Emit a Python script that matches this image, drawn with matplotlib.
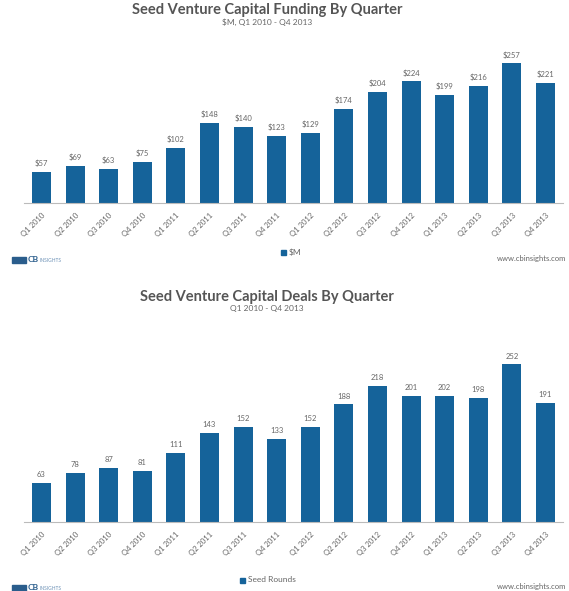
import matplotlib
matplotlib.use("Agg")
import matplotlib.pyplot as plt
import numpy as np

quarters = [
    "Q1 2010", "Q2 2010", "Q3 2010", "Q4 2010",
    "Q1 2011", "Q2 2011", "Q3 2011", "Q4 2011",
    "Q1 2012", "Q2 2012", "Q3 2012", "Q4 2012",
    "Q1 2013", "Q2 2013", "Q3 2013", "Q4 2013",
]
funding = [57, 69, 63, 75, 102, 148, 140, 123, 129, 174, 204, 224, 199, 216, 257, 221]
deals = [63, 78, 87, 81, 111, 143, 152, 133, 152, 188, 218, 201, 202, 198, 252, 191]

BAR = "#15639a"
GRAY = "#666666"
plt.rcParams["font.family"] = ["Lato", "DejaVu Sans"]

fig = plt.figure(figsize=(5.69, 5.91), dpi=100)
W, H = 569, 591


def fx(px):
    return px / W


def fy(py):
    return 1 - py / H


def draw_panel(values, labels, title, subtitle, legend, legend_x,
               top, base, ymax, title_y, foot_y):
    ax = fig.add_axes([fx(24), fy(base), fx(563) - fx(24), fy(top) - fy(base)])
    x = np.arange(len(values))
    ax.bar(x, values, width=0.57, color=BAR)
    for xi, v, lab in zip(x, values, labels):
        ax.annotate(lab, (xi, v), xytext=(0, 3.5), textcoords="offset points",
                    ha="center", va="bottom", fontsize=5.5, color=GRAY)
    ax.set_xlim(-0.52, len(values) - 0.48)
    ax.set_ylim(0, ymax)
    ax.set_yticks([])
    ax.set_xticks(x)
    ax.set_xticklabels(quarters, rotation=45, ha="right", rotation_mode="anchor",
                       fontsize=5.5, color=GRAY)
    ax.tick_params(axis="x", length=0, pad=6)
    for s in ["top", "left", "right"]:
        ax.spines[s].set_visible(False)
    ax.spines["bottom"].set_color("#bbbbbb")
    ax.spines["bottom"].set_linewidth(0.8)

    fig.text(fx(267), fy(title_y), title, ha="center", va="center",
             fontsize=10.5, fontweight="bold", color="#555555")
    fig.text(fx(267), fy(title_y + 12), subtitle, ha="center", va="center",
             fontsize=6, color=GRAY)

    # legend, logo and website footer
    ly = foot_y - 7
    fig.patches.append(plt.Rectangle((fx(legend_x), fy(ly + 2.5)), 5 / W, 5 / H,
                                     transform=fig.transFigure, color=BAR))
    fig.text(fx(legend_x + 8), fy(ly), legend, ha="left", va="center",
             fontsize=6, color=GRAY)
    fig.patches.append(plt.Rectangle((fx(12), fy(foot_y + 4)), 14 / W, 6 / H,
                                     transform=fig.transFigure, color="#2a5d8c"))
    fig.text(fx(28), fy(foot_y + 1), "CB", ha="left", va="center", fontsize=6,
             fontweight="bold", color="#2a5d8c")
    fig.text(fx(40), fy(foot_y + 1), "INSIGHTS", ha="left", va="center", fontsize=3.5,
             color="#6a8fb5")
    fig.text(fx(566), fy(foot_y), "www.cbinsights.com", ha="right", va="center",
             fontsize=5.5, color=GRAY)
    return ax


draw_panel(funding, [f"${v}" for v in funding],
           "Seed Venture Capital Funding By Quarter", "$M, Q1 2010 - Q4 2013", "$M", 281,
           top=45, base=203, ymax=291, title_y=10, foot_y=259)
draw_panel(deals, [str(v) for v in deals],
           "Seed Venture Capital Deals By Quarter", "Q1 2010 - Q4 2013", "Seed Rounds", 240,
           top=335, base=522, ymax=299, title_y=297, foot_y=587)

fig.savefig("out.png", dpi=100)
